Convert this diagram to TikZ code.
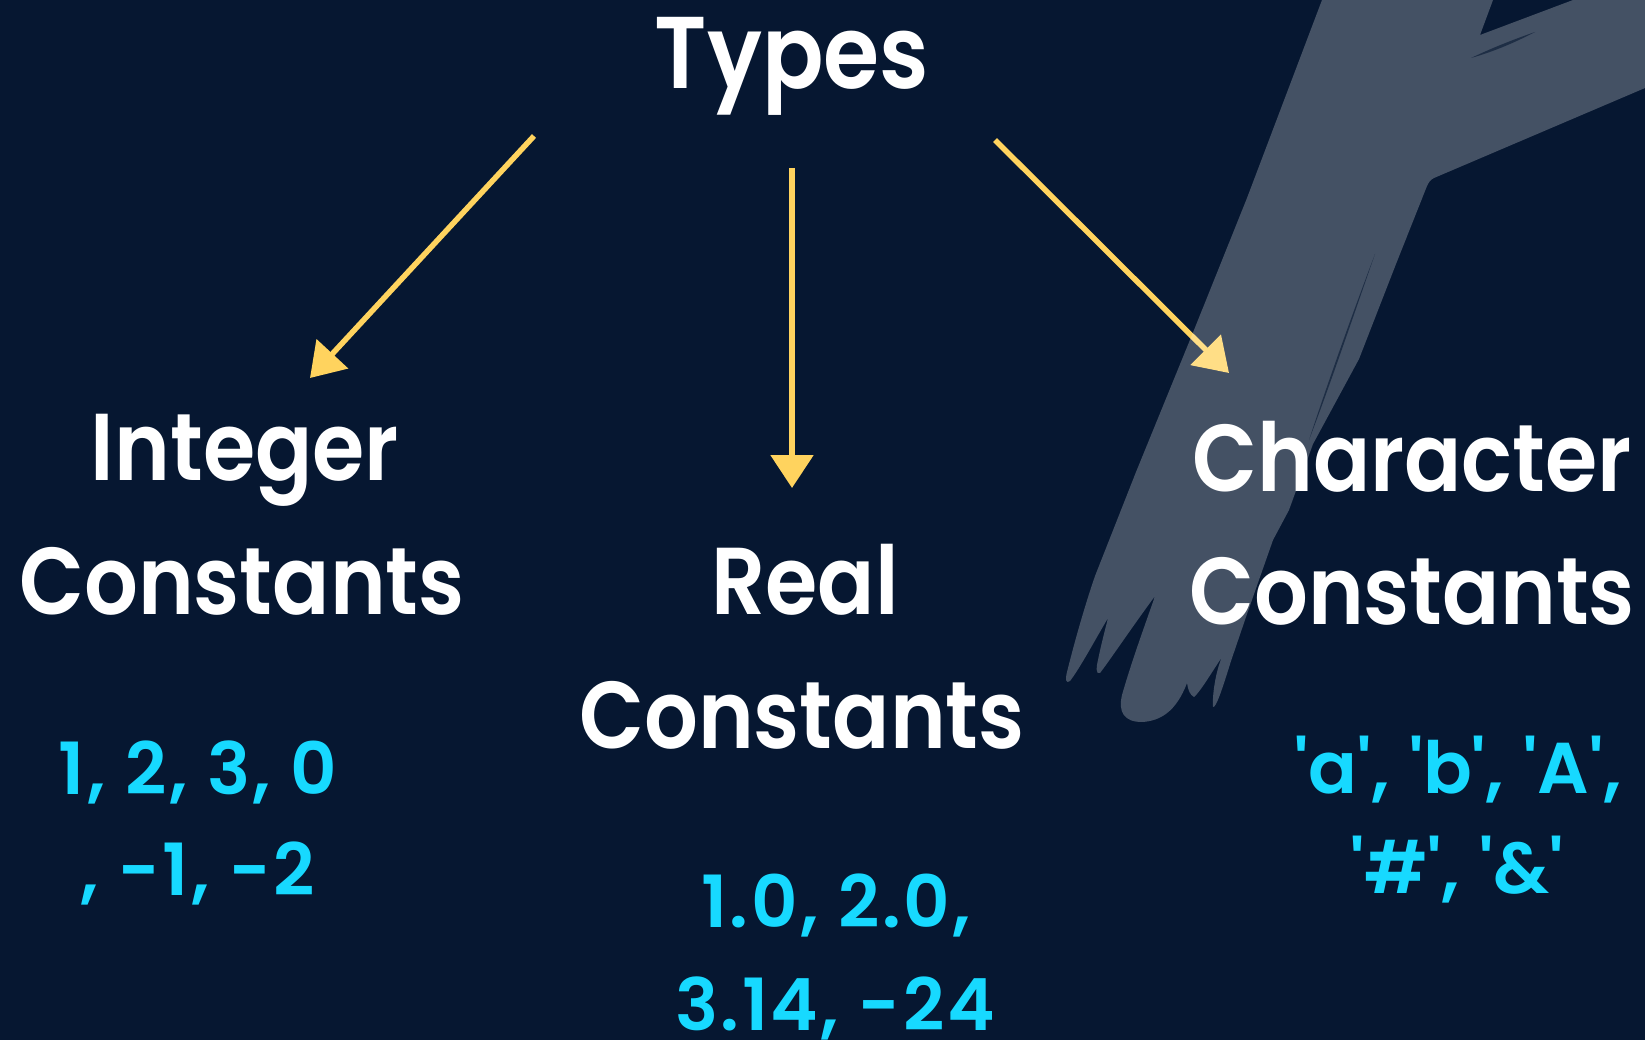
\documentclass[tikz,border=0pt]{standalone}
\usepackage{fontspec}
\setmainfont{Poppins}
\newfontfamily\headfont{Poppins SemiBold}[FakeStretch=0.89]
\newfontfamily\valfont{Poppins SemiBold}[LetterSpace=3.5]
\usetikzlibrary{arrows.meta}
\definecolor{bgnavy}{HTML}{061731}
\definecolor{arrowgold}{HTML}{FFD35E}
\definecolor{valcyan}{HTML}{17D9FF}
\newcommand\sq{\textquotesingle}
\begin{document}
\begin{tikzpicture}[x=1pt,y=-1pt,
  heading/.style={text=white,font=\fontsize{95}{95}\selectfont\headfont,anchor=base,inner sep=0pt},
  title/.style={heading,font=\fontsize{102}{102}\selectfont\headfont},
  values/.style={text=valcyan,font=\fontsize{72}{72}\selectfont\valfont,anchor=base,inner sep=0pt},
  link/.style={draw=arrowgold,line width=5.5pt,-{Triangle[length=33pt,width=42pt]}},
  crease/.style={fill=bgnavy,opacity=0.6}
  ]
% backdrop
\fill[bgnavy] (0,0) rectangle (1645,1040);
\useasboundingbox (0,0) rectangle (1645,1040);

% connectors
\coordinate (lfrom) at (534,136);
\coordinate (lto) at (310,378);
\coordinate (mfrom) at (792,168);
\coordinate (mto) at (792,488);
\coordinate (rfrom) at (995,140);
\coordinate (rto) at (1229,373);
\draw[link] (lfrom) -- (lto);
\draw[link] (mfrom) -- (mto);
\draw[link] (rfrom) -- (rto);

% translucent arm and hand
\fill[white,opacity=0.25]
  (1322,0) -- (1493,0) -- (1480,35) -- (1573,0) -- (1645,0) -- (1645,88)
  -- (1434,178) .. controls (1430,180) and (1429,182) .. (1427,186)
  -- (1396,264) -- (1359,359) -- (1313,444) -- (1289,510)
  -- (1273,540) -- (1247,614) -- (1231,661)
  .. controls (1222,690) and (1216,708) .. (1213,707)
  .. controls (1212,695) and (1216,670) .. (1222,657)
  .. controls (1210,675) and (1200,692) .. (1194,697)
  .. controls (1190,695) and (1188,690) .. (1187,683)
  .. controls (1176,712) and (1160,721) .. (1142,722)
  .. controls (1124,722) and (1118,712) .. (1122,695)
  .. controls (1132,660) and (1145,625) .. (1155,596)
  .. controls (1130,630) and (1110,660) .. (1100,673)
  .. controls (1096,675) and (1096,668) .. (1098,660)
  .. controls (1101,645) and (1105,630) .. (1108,618)
  .. controls (1095,640) and (1080,668) .. (1070,681)
  .. controls (1066,684) and (1065,680) .. (1067,672)
  .. controls (1075,640) and (1085,605) .. (1095,576)
  -- (1136,472) -- (1194,330) -- (1247,198) -- cycle;
% skin creases
\fill[crease] (1375,254) .. controls (1352,320) and (1330,385) .. (1309,440)
  .. controls (1327,385) and (1350,320) .. cycle;
\fill[crease] (1535,32) .. controls (1512,40) and (1492,48) .. (1471,58)
  .. controls (1492,52) and (1512,44) .. cycle;

% headings
\node[title] (types) at (792,89) {Types};
\node[heading] (int1) at (245,480) {Integer};
\node[heading] (int2) at (242,614) {Constants};
\node[heading] (real1) at (805,614) {Real};
\node[heading] (real2) at (802,748) {Constants};
\node[heading] (char1) at (1412,491) {Character};
\node[heading] (char2) at (1412,624) {Constants};

% example values
\node[values] (intv1) at (198,794) {1, 2, 3, 0};
\node[values] (intv2) at (198,895) {, -1, -2};
\node[values] (realv1) at (836,927) {1.0, 2.0,};
\node[values] (realv2) at (835,1030) {3.14, -24};
\node[values] (charv1) at (1458,793) {\sq a\sq, \sq b\sq, \sq A\sq,};
\node[values] (charv2) at (1457,893) {\sq\#\sq, \sq\&\sq};
\end{tikzpicture}
\end{document}
